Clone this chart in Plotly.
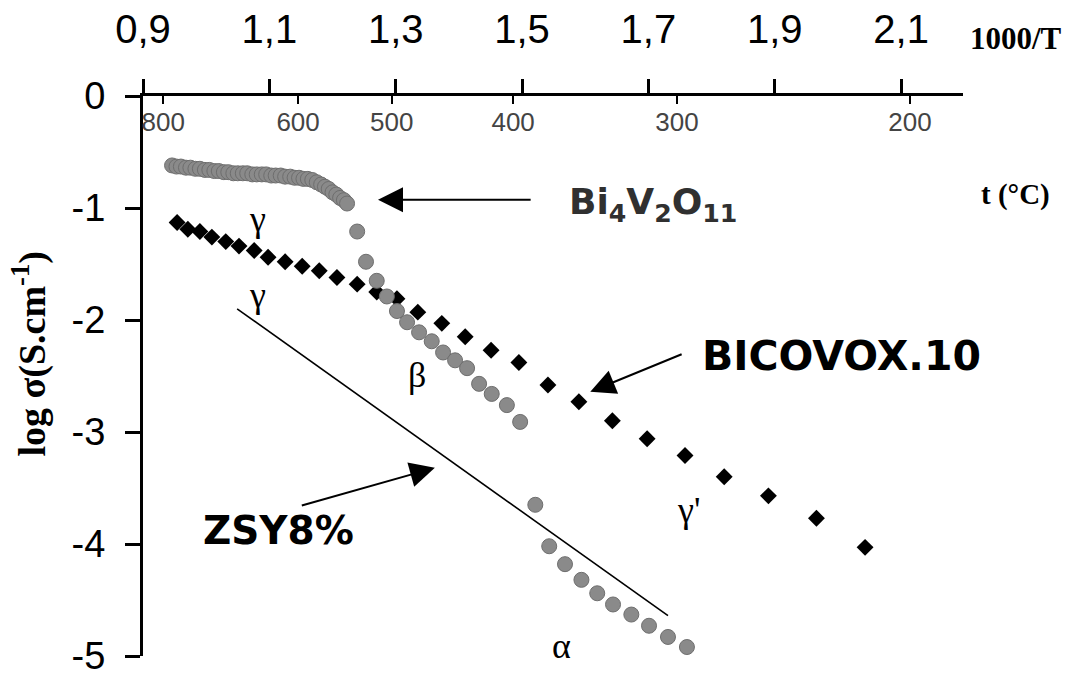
import plotly.graph_objects as go

# ---- data ----
bi_x = [0.946, 0.953, 0.960, 0.968, 0.975, 0.983, 0.990, 0.998, 1.005, 1.013,
        1.020, 1.028, 1.035, 1.043, 1.050, 1.058, 1.065, 1.073, 1.080, 1.088,
        1.095, 1.103, 1.110, 1.118, 1.125, 1.133, 1.140, 1.147, 1.154, 1.161,
        1.168, 1.175, 1.182, 1.188, 1.194, 1.200, 1.206, 1.212, 1.218, 1.223,
        1.239, 1.253, 1.270, 1.286, 1.302, 1.318, 1.337, 1.357, 1.375, 1.394,
        1.413, 1.432, 1.452, 1.476, 1.497,
        1.521, 1.543, 1.568, 1.594, 1.619, 1.644, 1.673, 1.701, 1.731, 1.761]
bi_y = [-0.62, -0.63, -0.63, -0.64, -0.64, -0.65, -0.65, -0.66, -0.66, -0.67,
        -0.67, -0.68, -0.68, -0.69, -0.69, -0.69, -0.69, -0.70, -0.70, -0.70,
        -0.70, -0.71, -0.71, -0.71, -0.72, -0.72, -0.73, -0.73, -0.74, -0.74,
        -0.75, -0.77, -0.79, -0.81, -0.83, -0.86, -0.88, -0.91, -0.93, -0.96,
        -1.21, -1.48, -1.65, -1.79, -1.92, -2.02, -2.11, -2.19, -2.29, -2.36,
        -2.43, -2.57, -2.66, -2.76, -2.91,
        -3.65, -4.02, -4.18, -4.32, -4.44, -4.54, -4.63, -4.73, -4.83, -4.92]

bicovox_x = [0.954, 0.971, 0.990, 1.009, 1.031, 1.052, 1.076, 1.098, 1.125, 1.152,
             1.179, 1.207, 1.239, 1.270, 1.302, 1.335, 1.373, 1.410, 1.451, 1.495,
             1.541, 1.590, 1.643, 1.698, 1.758, 1.820, 1.890, 1.966, 2.043]
bicovox_y = [-1.13, -1.19, -1.21, -1.26, -1.30, -1.34, -1.38, -1.44, -1.48, -1.52,
             -1.56, -1.62, -1.68, -1.75, -1.81, -1.93, -2.03, -2.15, -2.27, -2.38,
             -2.58, -2.73, -2.90, -3.06, -3.21, -3.40, -3.57, -3.77, -4.03]

zsy_x = [1.049, 1.731]
zsy_y = [-1.90, -4.64]

inv_t_ticks = [0.9, 1.1, 1.3, 1.5, 1.7, 1.9, 2.1]
inv_t_labels = ["0,9", "1,1", "1,3", "1,5", "1,7", "1,9", "2,1"]
temp_c = [800, 600, 500, 400, 300, 200]
y_ticks = [0, -1, -2, -3, -4, -5]

temp_pos = [1000.0 / (t + 273.0) for t in temp_c]

fig = go.Figure()

fig.add_trace(go.Scatter(
    x=zsy_x, y=zsy_y, mode="lines",
    line=dict(color="black", width=1.6), showlegend=False, hoverinfo="skip"))

fig.add_trace(go.Scatter(
    x=bicovox_x, y=bicovox_y, mode="markers",
    marker=dict(symbol="diamond", size=13, color="black"),
    showlegend=False))

fig.add_trace(go.Scatter(
    x=bi_x, y=bi_y, mode="markers",
    marker=dict(symbol="circle", size=15, color="#8a8a8a",
                line=dict(color="#6e6e6e", width=1)),
    showlegend=False))

# invisible trace on the temperature axis so it is drawn
fig.add_trace(go.Scatter(x=[temp_pos[0]], y=[0], xaxis="x2", mode="markers",
                         marker=dict(opacity=0), showlegend=False, hoverinfo="skip"))

fig.update_layout(
    width=1082, height=673,
    margin=dict(l=143, r=119, t=96, b=17, autoexpand=False),
    plot_bgcolor="white", paper_bgcolor="white",
    font=dict(family="Liberation Sans, Arial", color="black"),
    xaxis=dict(
        range=[0.9, 2.198], side="top", automargin=False,
        tickvals=inv_t_ticks, ticktext=inv_t_labels,
        ticks="outside", ticklen=14, tickwidth=3, tickcolor="black",
        showline=True, linewidth=3, linecolor="black",
        showgrid=False, zeroline=False,
        tickfont=dict(size=40, family="Liberation Sans, Arial"),
        ticklabelstandoff=20, ticklabeloverflow="allow",
    ),
    xaxis2=dict(
        range=[0.9, 2.198], side="top", overlaying="x", automargin=False,
        tickvals=temp_pos, ticktext=[str(t) for t in temp_c],
        ticks="inside", ticklen=8, tickwidth=2, tickcolor="black",
        ticklabelposition="inside", ticklabelstandoff=11,
        ticklabeloverflow="allow",
        showline=False, showgrid=False, zeroline=False,
        tickfont=dict(size=26, family="Liberation Sans, Arial"),
    ),
    yaxis=dict(
        range=[-5, 0], automargin=False,
        tickvals=y_ticks, ticktext=[str(v) for v in y_ticks],
        ticks="outside", ticklen=15, tickwidth=3, tickcolor="black",
        showline=True, linewidth=3, linecolor="black",
        showgrid=False, zeroline=False,
        tickfont=dict(size=38, family="Liberation Sans, Arial"),
        ticklabelstandoff=12, ticklabeloverflow="allow",
    ),
)

# axis captions
fig.add_annotation(xref="paper", yref="paper", x=1.065, y=1.103,
                   xanchor="center", yanchor="middle",
                   text="<b>1000/T</b>", showarrow=False,
                   font=dict(family="Liberation Serif", size=31))
fig.add_annotation(xref="paper", yref="paper", x=1.064, y=0.825,
                   xanchor="center", yanchor="middle",
                   text="<b>t (°C)</b>", showarrow=False,
                   font=dict(family="Liberation Serif", size=29))
fig.add_annotation(xref="paper", yref="paper", x=-0.138, y=0.54,
                   xanchor="center", yanchor="middle",
                   text="<b>log σ(S.cm<sup>-1</sup>)</b>", showarrow=False,
                   textangle=-90,
                   font=dict(family="Liberation Serif", size=38))

# material labels
fig.add_annotation(x=1.7075, y=-0.97, xanchor="center", yanchor="middle",
                   text="<b>Bi<sub>4</sub>V<sub>2</sub>O<sub>11</sub></b>",
                   showarrow=False, font=dict(family="DejaVu Sans", size=36, color="#303030"))
fig.add_annotation(x=2.006, y=-2.317, xanchor="center", yanchor="middle",
                   text="<b>BICOVOX.10</b>", showarrow=False,
                   font=dict(family="DejaVu Sans", size=41, color="black"))
fig.add_annotation(x=1.114, y=-3.88, xanchor="center", yanchor="middle",
                   text="<b>ZSY8%</b>", showarrow=False,
                   font=dict(family="DejaVu Sans", size=39, color="black"))

# arrows
arrow_style = dict(showarrow=True, arrowhead=2, arrowsize=2.5, arrowwidth=2,
                   arrowcolor="black", axref="x", ayref="y", text="")
fig.add_annotation(x=1.272, y=-0.927, ax=1.516, ay=-0.927, **arrow_style)
fig.add_annotation(x=1.608, y=-2.64, ax=1.755, ay=-2.30, **arrow_style)
fig.add_annotation(x=1.362, y=-3.32, ax=1.149, ay=-3.66, **arrow_style)

# phase labels
greek_font = dict(family="Liberation Serif", size=36, color="black")
for gx, gy, gt in [(1.082, -1.10, "γ"), (1.082, -1.78, "γ"), (1.334, -2.49, "β"),
                   (1.763, -3.70, "γ'"), (1.562, -4.91, "α")]:
    fig.add_annotation(x=gx, y=gy, text=gt, showarrow=False, font=greek_font,
                       xanchor="center", yanchor="middle")

fig.write_html("out.html")
